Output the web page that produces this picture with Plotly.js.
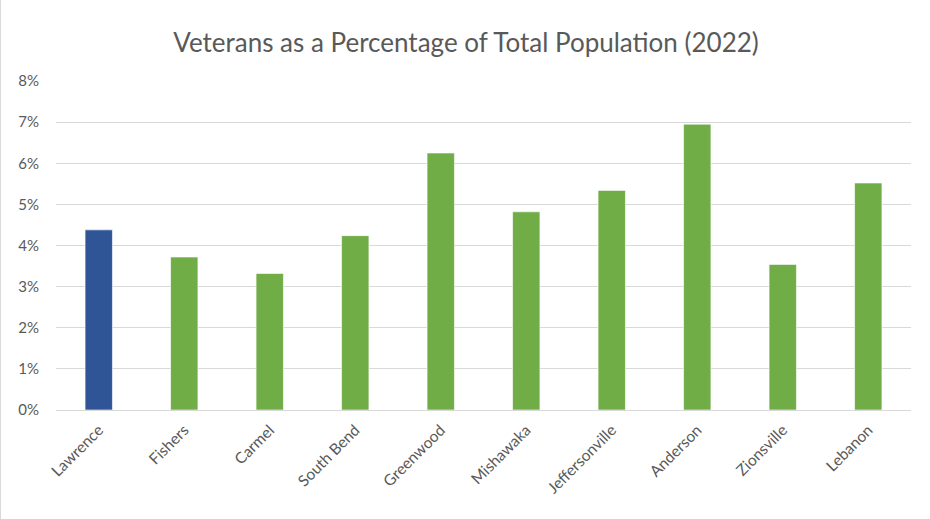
<!DOCTYPE html>
<html>
<head>
<meta charset="utf-8">
<script src="https://cdn.plot.ly/plotly-3.0.1.min.js"></script>
<style>
html,body{margin:0;padding:0;background:#fff;}
#chart{width:930px;height:519px;box-sizing:border-box;border-left:1px solid #d9d9d9;}
</style>
</head>
<body>
<div id="chart"></div>
<script>
const cities = ["Lawrence","Fishers","Carmel","South Bend","Greenwood","Mishawaka","Jeffersonville","Anderson","Zionsville","Lebanon"];
const veteranPct = [4.38, 3.72, 3.32, 4.24, 6.25, 4.82, 5.34, 6.95, 3.54, 5.52];
const barColors = ["#2F5597","#70AD47","#70AD47","#70AD47","#70AD47","#70AD47","#70AD47","#70AD47","#70AD47","#70AD47"];
const yTicks = [0,1,2,3,4,5,6,7,8];
const yTickText = ["0%","1%","2%","3%","4%","5%","6%","7%","8%"];

const trace = {
  type: "bar",
  x: cities,
  y: veteranPct,
  marker: {color: barColors, line: {color: "rgba(255,255,255,0.6)", width: 1}},
  width: 0.32,
  hoverinfo: "x+y"
};

const layout = {
  width: 930,
  height: 519,
  margin: {l: 55, r: 20, t: 81, b: 109},
  paper_bgcolor: "#fff",
  plot_bgcolor: "#fff",
  font: {family: "Lato, Open Sans, sans-serif", color: "#595959", size: 15},
  title: {
    text: "Veterans as a Percentage of Total Population (2022)",
    font: {size: 26, color: "#595959", family: "Lato, Open Sans, sans-serif"},
    x: 0.5, xanchor: "center", y: 0.917, yanchor: "middle"
  },
  xaxis: {
    tickangle: -45,
    showgrid: false,
    showline: true,
    linecolor: "#d9d9d9",
    ticks: "",
    ticklabelstandoff: 4,
    tickfont: {size: 15.5, color: "#595959"}
  },
  yaxis: {
    range: [0, 8],
    tickvals: yTicks,
    ticktext: yTickText,
    showgrid: true,
    gridcolor: "#d9d9d9",
    zeroline: false,
    showline: false,
    ticks: "",
    ticklabelstandoff: 16,
    tickfont: {size: 15, color: "#595959"}
  },
  bargap: 0.68,
  showlegend: false
};

Plotly.newPlot("chart", [trace], layout, {displayModeBar: false, staticPlot: true});
</script>
</body>
</html>
